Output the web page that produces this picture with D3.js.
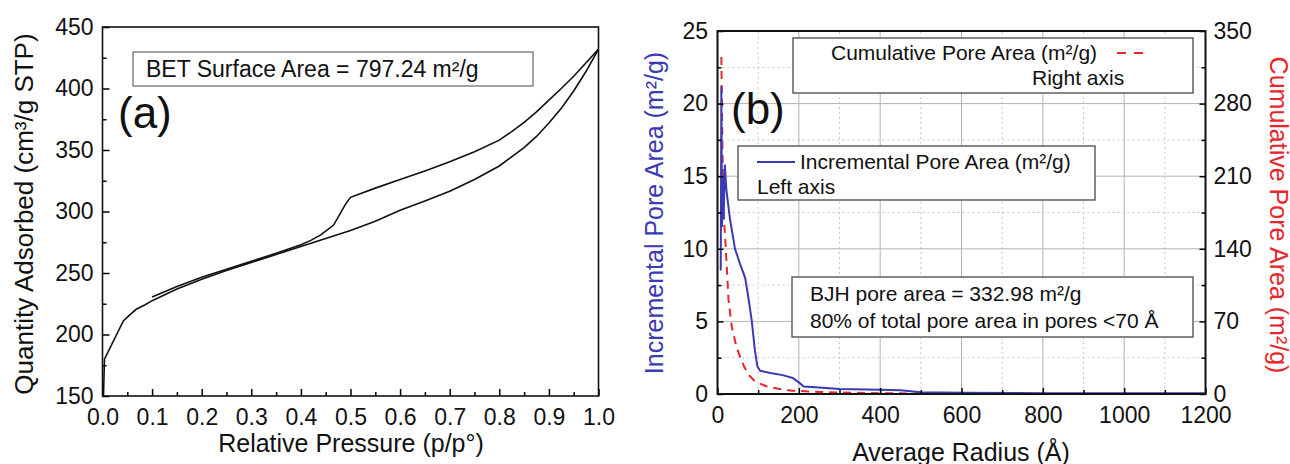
<!DOCTYPE html>
<html>
<head>
<meta charset="utf-8">
<script src="https://cdn.jsdelivr.net/npm/d3@7"></script>
<style>
  body { margin: 0; background: #fff; }
  svg { display: block; font-family: "Liberation Sans", Arial, sans-serif; }
</style>
</head>
<body>
<div id="chart"></div>
<script>
// ---- panel (a): N2 isotherm
const adsP = [0.002, 0.003, 0.004, 0.042, 0.055, 0.068, 0.085, 0.1, 0.15, 0.2, 0.25, 0.3, 0.35, 0.4, 0.45, 0.5, 0.55, 0.6, 0.65, 0.7, 0.75, 0.8, 0.85, 0.875, 0.9, 0.925, 0.95, 0.975, 1.0];
const adsQ = [150, 165, 180, 211, 216, 220.5, 224, 227.5, 237, 245, 252, 258.5, 265, 271.5, 278, 284.5, 292, 301, 308.5, 316.5, 326, 337, 352, 361, 372, 384, 398, 414, 432];
const desP = [1.0, 0.975, 0.95, 0.925, 0.9, 0.875, 0.85, 0.825, 0.8, 0.75, 0.7, 0.65, 0.6, 0.55, 0.5, 0.49, 0.466, 0.44, 0.42, 0.4, 0.35, 0.3, 0.25, 0.2, 0.15, 0.1];
const desQ = [432, 421, 410, 400, 390.5, 381, 372.5, 365, 358, 348.5, 340.5, 333, 326, 319, 311.5, 306, 289, 281, 276.5, 273, 266, 259.5, 253, 246.5, 239, 230.5];
const aXTicks = [0, 0.1, 0.2, 0.3, 0.4, 0.5, 0.6, 0.7, 0.8, 0.9, 1.0];
const aYTicks = [150, 200, 250, 300, 350, 400, 450];

// ---- panel (b): BJH pore area
const incR = [8, 9.5, 11, 13, 15, 18, 22, 31, 43, 55, 68, 75, 84, 92, 98, 105, 130, 160, 185, 200, 212, 250, 300, 400, 450, 500, 600, 800, 1000, 1200];
const incA = [8.5, 21.2, 11.5, 15, 12, 15.8, 14, 12, 10, 9, 8, 6.8, 5.1, 3, 1.9, 1.6, 1.45, 1.3, 1.1, 0.8, 0.52, 0.45, 0.34, 0.3, 0.25, 0.12, 0.08, 0.06, 0.05, 0.05];
const cumR = [9.5, 10.5, 12, 14, 16, 19, 22, 27, 35, 45, 52, 65, 76, 90, 101, 120, 150, 183, 250, 300, 400, 500, 600, 800, 1000, 1200];
const cumA = [325, 290, 240, 195, 168, 150, 128, 91, 65, 48, 39.5, 27, 18.6, 13, 10.6, 7.5, 5, 3.2, 2, 1.5, 0.8, 0.4, 0.2, 0.1, 0, 0];
const bXTicks = [0, 200, 400, 600, 800, 1000, 1200];
const bYLTicks = [0, 5, 10, 15, 20, 25];
const bYRTicks = [0, 70, 140, 210, 280, 350];

const W = 1290, H = 464;
const BLUE = '#3a3ab4', RED = '#e8262a';

const svg = d3.select('#chart').append('svg')
    .attr('width', W)
    .attr('height', H);

svg.append('rect').attr('width', W).attr('height', H).attr('fill', '#fff');

// small helper: draw an axis with inward ticks, strip the domain path
function axis(g, ax, fs) {
    g.call(ax)
        .attr('font-size', fs)
        .attr('font-family', null)
        .call(s => s.select('.domain').remove())
        .call(s => s.selectAll('.tick line').attr('stroke-width', 1.5))
        .call(s => s.selectAll('.tick text').attr('fill', '#111'));
}

// ================= panel (a) =================
const xa = d3.scaleLinear().domain([0, 1]).range([102.5, 598.5]);
const ya = d3.scaleLinear().domain([150, 450]).range([396, 27]);

const gA = svg.append('g');

gA.append('defs').append('clipPath').attr('id', 'clipA')
    .append('rect')
    .attr('x', xa(0)).attr('y', ya(450))
    .attr('width', xa(1) - xa(0)).attr('height', ya(150) - ya(450));

const lineA = d3.line().x(d => xa(d[0])).y(d => ya(d[1]));

gA.append('path')
    .datum(adsP.map((p, i) => [p, adsQ[i]]))
    .attr('clip-path', 'url(#clipA)')
    .attr('fill', 'none').attr('stroke', '#111').attr('stroke-width', 1.6)
    .attr('d', lineA);

gA.append('path')
    .datum(desP.map((p, i) => [p, desQ[i]]))
    .attr('clip-path', 'url(#clipA)')
    .attr('fill', 'none').attr('stroke', '#111').attr('stroke-width', 1.6)
    .attr('d', lineA);

axis(gA.append('g').attr('transform', `translate(0,${ya(150)})`),
    d3.axisBottom(xa).tickValues(aXTicks).tickFormat(d3.format('.1f')).tickSize(-7).tickPadding(12.5), 23);
axis(gA.append('g').attr('transform', `translate(0,${ya(150)})`),
    d3.axisBottom(xa).tickValues(d3.range(0.05, 1, 0.1)).tickFormat('').tickSize(-4), 23);
axis(gA.append('g').attr('transform', `translate(${xa(0)},0)`),
    d3.axisLeft(ya).tickValues(aYTicks).tickSize(-7).tickPadding(9), 23);
axis(gA.append('g').attr('transform', `translate(${xa(0)},0)`),
    d3.axisLeft(ya).tickValues(d3.range(175, 450, 50)).tickFormat('').tickSize(-4), 23);

gA.append('rect')
    .attr('x', xa(0)).attr('y', ya(450))
    .attr('width', xa(1) - xa(0)).attr('height', ya(150) - ya(450))
    .attr('fill', 'none').attr('stroke', '#111').attr('stroke-width', 1.6);

// BET box
gA.append('rect')
    .attr('x', 133).attr('y', 52).attr('width', 400).attr('height', 34)
    .attr('fill', '#fff').attr('stroke', '#666').attr('stroke-width', 1.2);
gA.append('text')
    .attr('x', 146).attr('y', 77)
    .attr('font-size', 23).attr('fill', '#111')
    .text('BET Surface Area = 797.24 m²/g');

gA.append('text')
    .attr('x', 118).attr('y', 128)
    .attr('font-size', 44).attr('fill', '#111')
    .text('(a)');

gA.append('text')
    .attr('transform', 'translate(33,214) rotate(-90)')
    .attr('text-anchor', 'middle')
    .attr('font-size', 26).attr('fill', '#111')
    .text('Quantity Adsorbed (cm³/g STP)');

gA.append('text')
    .attr('x', 351).attr('y', 452)
    .attr('text-anchor', 'middle')
    .attr('font-size', 25).attr('fill', '#111')
    .text('Relative Pressure (p/p°)');

// ================= panel (b) =================
const xb = d3.scaleLinear().domain([0, 1200]).range([717.5, 1205.5]);
const yl = d3.scaleLinear().domain([0, 25]).range([394, 31]);
const yr = d3.scaleLinear().domain([0, 350]).range([394, 31]);

const gB = svg.append('g');

gB.append('defs').append('clipPath').attr('id', 'clipB')
    .append('rect')
    .attr('x', xb(0)).attr('y', yl(25))
    .attr('width', xb(1200) - xb(0)).attr('height', yl(0) - yl(25));

// grid: dotted minor, solid major
const grid = gB.append('g');
grid.selectAll('.vminor').data(d3.range(100, 1200, 200)).join('line')
    .attr('x1', d => xb(d)).attr('x2', d => xb(d)).attr('y1', yl(0)).attr('y2', yl(25))
    .attr('stroke', '#c8c8c8').attr('stroke-dasharray', '2,3');
grid.selectAll('.hminor').data(d3.range(2.5, 25, 5)).join('line')
    .attr('x1', xb(0)).attr('x2', xb(1200)).attr('y1', d => yl(d)).attr('y2', d => yl(d))
    .attr('stroke', '#c8c8c8').attr('stroke-dasharray', '2,3');
grid.selectAll('.vmajor').data(d3.range(200, 1200, 200)).join('line')
    .attr('x1', d => xb(d)).attr('x2', d => xb(d)).attr('y1', yl(0)).attr('y2', yl(25))
    .attr('stroke', '#b4b4b4').attr('stroke-width', 1);
grid.selectAll('.hmajor').data(d3.range(5, 25, 5)).join('line')
    .attr('x1', xb(0)).attr('x2', xb(1200)).attr('y1', d => yl(d)).attr('y2', d => yl(d))
    .attr('stroke', '#b4b4b4').attr('stroke-width', 1);

// legend / note boxes (white, over the grid)
function box(x, y, w, h) {
    gB.append('rect').attr('x', x).attr('y', y).attr('width', w).attr('height', h)
        .attr('fill', '#fff').attr('stroke', '#555').attr('stroke-width', 1.4);
}
box(793, 38, 400, 55);
box(738, 146, 357, 54);
box(792, 277, 401, 60);

// curves
gB.append('path')
    .datum(cumR.map((r, i) => [r, cumA[i]]))
    .attr('clip-path', 'url(#clipB)')
    .attr('fill', 'none').attr('stroke', RED).attr('stroke-width', 2)
    .attr('stroke-dasharray', '8,6')
    .attr('d', d3.line().x(d => xb(d[0])).y(d => yr(d[1])));

gB.append('path')
    .datum(incR.map((r, i) => [r, incA[i]]))
    .attr('clip-path', 'url(#clipB)')
    .attr('fill', 'none').attr('stroke', BLUE).attr('stroke-width', 2)
    .attr('d', d3.line().x(d => xb(d[0])).y(d => yl(d[1])));

// axes
axis(gB.append('g').attr('transform', `translate(0,${yl(0)})`),
    d3.axisBottom(xb).tickValues(bXTicks).tickFormat(d3.format('d')).tickSize(-6).tickPadding(12.5), 23);
axis(gB.append('g').attr('transform', `translate(0,${yl(0)})`),
    d3.axisBottom(xb).tickValues(d3.range(100, 1200, 200)).tickFormat('').tickSize(-4), 23);
axis(gB.append('g').attr('transform', `translate(${xb(0)},0)`),
    d3.axisLeft(yl).tickValues(bYLTicks).tickSize(-6).tickPadding(9.5), 23);
axis(gB.append('g').attr('transform', `translate(${xb(0)},0)`),
    d3.axisLeft(yl).tickValues(d3.range(2.5, 25, 5)).tickFormat('').tickSize(-4), 23);
axis(gB.append('g').attr('transform', `translate(${xb(1200)},0)`),
    d3.axisRight(yr).tickValues(bYRTicks).tickSize(-6).tickPadding(8), 23);
axis(gB.append('g').attr('transform', `translate(${xb(1200)},0)`),
    d3.axisRight(yr).tickValues(d3.range(35, 350, 70)).tickFormat('').tickSize(-4), 23);

gB.append('rect')
    .attr('x', xb(0)).attr('y', yl(25))
    .attr('width', xb(1200) - xb(0)).attr('height', yl(0) - yl(25))
    .attr('fill', 'none').attr('stroke', '#111').attr('stroke-width', 2);

// legend texts
gB.append('text').attr('x', 831).attr('y', 60).attr('font-size', 21).attr('fill', '#111')
    .text('Cumulative Pore Area (m²/g)');
gB.append('line').attr('x1', 1117).attr('x2', 1143).attr('y1', 53).attr('y2', 53)
    .attr('stroke', RED).attr('stroke-width', 2).attr('stroke-dasharray', '9,8');
gB.append('text').attr('x', 1032).attr('y', 85).attr('font-size', 21).attr('fill', '#111')
    .text('Right axis');

gB.append('line').attr('x1', 757).attr('x2', 795).attr('y1', 162).attr('y2', 162)
    .attr('stroke', BLUE).attr('stroke-width', 2);
gB.append('text').attr('x', 800).attr('y', 169).attr('font-size', 21).attr('fill', '#111')
    .text('Incremental Pore Area (m²/g)');
gB.append('text').attr('x', 757).attr('y', 194).attr('font-size', 21).attr('fill', '#111')
    .text('Left axis');

gB.append('text').attr('x', 810).attr('y', 301).attr('font-size', 21).attr('fill', '#111')
    .text('BJH pore area = 332.98 m²/g');
gB.append('text').attr('x', 810).attr('y', 328).attr('font-size', 21).attr('fill', '#111')
    .text('80% of total pore area in pores <70 Å');

gB.append('text')
    .attr('x', 731).attr('y', 124)
    .attr('font-size', 44).attr('fill', '#111')
    .text('(b)');

gB.append('text')
    .attr('transform', 'translate(663,213) rotate(-90)')
    .attr('text-anchor', 'middle')
    .attr('font-size', 25).attr('fill', BLUE)
    .text('Incremental Pore Area (m²/g)');

gB.append('text')
    .attr('transform', 'translate(1270,215) rotate(90)')
    .attr('text-anchor', 'middle')
    .attr('font-size', 25).attr('fill', RED)
    .text('Cumulative Pore Area (m²/g)');

gB.append('text')
    .attr('x', 961).attr('y', 461)
    .attr('text-anchor', 'middle')
    .attr('font-size', 25).attr('fill', '#111')
    .text('Average Radius (Å)');
</script>
</body>
</html>
